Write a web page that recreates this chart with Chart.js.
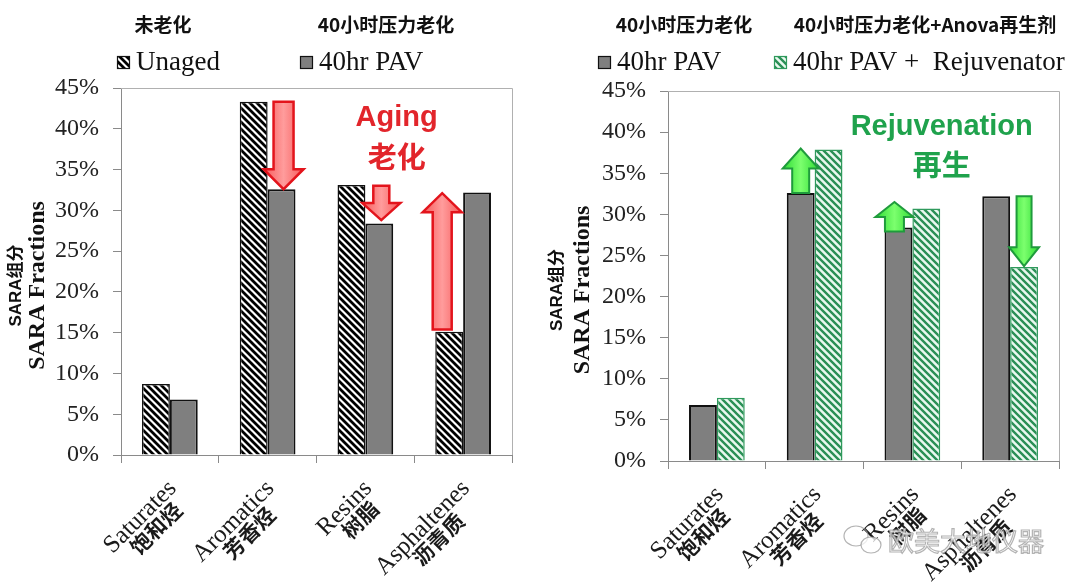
<!DOCTYPE html>
<html><head><meta charset="utf-8">
<script src="https://cdn.jsdelivr.net/npm/chart.js@4.4.1/dist/chart.umd.min.js"></script>
<style>
html,body{margin:0;padding:0;background:#fff;}
#wrap{position:relative;width:1080px;height:587px;overflow:hidden;background:#fff;}
.c{position:absolute;top:0;width:540px;height:587px;}
canvas{display:block;}
</style></head><body>
<div id="wrap">
<div class="c" style="left:0"><canvas id="left" width="540" height="587" style="width:540px;height:587px"></canvas></div>
<div class="c" style="left:540px"><canvas id="right" width="540" height="587" style="width:540px;height:587px"></canvas></div>
</div>
<script>
// ---------- data ----------
const categoriesEn = ['Saturates', 'Aromatics', 'Resins', 'Asphaltenes'];
const categoriesZh = ['饱和烃', '芳香烃', '树脂', '沥青质'];
const unaged      = [8.7, 43.3, 33.1, 15.1];
const pav40       = [6.8, 32.6, 28.4, 32.2];
const rejuvenated = [7.7, 37.9, 30.7, 23.6];
const yTickValues = [0, 5, 10, 15, 20, 25, 30, 35, 40, 45];

const leftHeaders  = ['未老化', '40小时压力老化'];
const rightHeaders = ['40小时压力老化', '40小时压力老化+Anova再生剂'];
const leftLegend   = ['Unaged', '40hr PAV'];
const rightLegend  = ['40hr PAV', '40hr PAV +  Rejuvenator'];
const yTitleZh = 'SARA组分';
const yTitleEn = 'SARA Fractions';

// arrows: dataset index, category index, from value, to value (in %)
const agingArrows = [
  {ds: 1, cat: 1, from: 43.3, to: 32.6},
  {ds: 1, cat: 2, from: 33.0, to: 28.8},
  {ds: 0, cat: 3, from: 15.4, to: 32.1}
];
const rejuvArrows = [
  {ds: 0, cat: 1, from: 32.6, to: 38.0},
  {ds: 0, cat: 2, from: 27.9, to: 31.5},
  {ds: 1, cat: 3, from: 32.2, to: 23.7}
];
const agingLabel = ['Aging', '老化'];
const rejuvLabel = ['Rejuvenation', '再生'];

// ---------- styles ----------
function hatch(bg, fg, lw, size) {
  const c = document.createElement('canvas');
  c.width = c.height = size;
  const g = c.getContext('2d');
  g.fillStyle = bg; g.fillRect(0, 0, size, size);
  g.strokeStyle = fg; g.lineWidth = lw;
  g.beginPath();
  for (const k of [-size, 0, size]) {
    g.moveTo(k - 1, -1); g.lineTo(k + size + 1, size + 1);
  }
  g.stroke();
  return g.createPattern(c, 'repeat');
}
const blackHatch = hatch('#ffffff', '#000000', 2.8, 7);
const greenHatch = hatch('#e9f8ef', '#2a8f55', 2.4, 7);
const PAV_GRAY = '#7f7f7f';
const SERIF = '"Liberation Serif", "Times New Roman", serif';
const SANS = '"Liberation Sans", Arial, "Noto Sans CJK SC", sans-serif';
const CJK = '"Noto Sans CJK SC", "Liberation Sans", sans-serif';

function drawArrow(ctx, cx, y0, y1, sw, hw, hl, fillA, fillB, stroke, lw) {
  const s = Math.sign(y1 - y0);
  const yh = y1 - s * hl;
  ctx.save();
  ctx.beginPath();
  ctx.moveTo(cx - sw / 2, y0);
  ctx.lineTo(cx + sw / 2, y0);
  ctx.lineTo(cx + sw / 2, yh);
  ctx.lineTo(cx + hw / 2, yh);
  ctx.lineTo(cx, y1);
  ctx.lineTo(cx - hw / 2, yh);
  ctx.lineTo(cx - sw / 2, yh);
  ctx.closePath();
  const g = ctx.createLinearGradient(cx - hw / 2, 0, cx + hw / 2, 0);
  g.addColorStop(0, fillA); g.addColorStop(0.5, fillB); g.addColorStop(1, fillA);
  ctx.fillStyle = g; ctx.fill();
  ctx.lineJoin = 'miter';
  ctx.strokeStyle = stroke; ctx.lineWidth = lw; ctx.stroke();
  ctx.restore();
}

function legendBox(ctx, x, y, size, fill, stroke) {
  ctx.save();
  ctx.fillStyle = fill; ctx.fillRect(x, y, size, size);
  ctx.strokeStyle = stroke; ctx.lineWidth = 1.2; ctx.strokeRect(x + 0.5, y + 0.5, size - 1, size - 1);
  ctx.restore();
}

function makePlugin(cfg) {
  return {
    id: 'deco',
    afterDatasetsDraw(chart) {
      const ctx = chart.ctx;
      const ca = chart.chartArea;
      const xs = chart.scales.x, ys = chart.scales.y;
      // frame (top + right)
      ctx.save();
      ctx.strokeStyle = '#b0b0b0'; ctx.lineWidth = 1;
      ctx.beginPath();
      ctx.moveTo(ca.left, Math.round(ca.top) + 0.5);
      ctx.lineTo(Math.round(ca.right) + 0.5, Math.round(ca.top) + 0.5);
      ctx.lineTo(Math.round(ca.right) + 0.5, ca.bottom);
      ctx.stroke();
      ctx.restore();
      // arrows
      for (const a of cfg.arrows) {
        const bar = chart.getDatasetMeta(a.ds).data[a.cat];
        const cx = bar.x + (a.dx || 0);
        drawArrow(ctx, cx, ys.getPixelForValue(a.from), ys.getPixelForValue(a.to),
          a.sw, a.hw, a.hl, cfg.arrowFillA, cfg.arrowFillB, cfg.arrowStroke, cfg.arrowLw);
      }
      // annotation text
      ctx.save();
      ctx.fillStyle = cfg.textColor;
      ctx.textAlign = 'center'; ctx.textBaseline = 'middle';
      const tx = xs.getPixelForValue(cfg.textAt);
      ctx.font = 'bold 29px ' + SANS;
      ctx.fillText(cfg.text[0], tx, ys.getPixelForValue(cfg.textVals[0]));
      ctx.font = 'bold 29px ' + CJK;
      ctx.fillText(cfg.text[1], tx, ys.getPixelForValue(cfg.textVals[1]));
      ctx.restore();
    },
    afterDraw(chart) {
      const ctx = chart.ctx;
      const ca = chart.chartArea;
      const xs = chart.scales.x;
      // x labels, rotated
      for (let i = 0; i < categoriesEn.length; i++) {
        const x = xs.getPixelForValue(i);
        ctx.save();
        ctx.translate(x - 6, ca.bottom + 21);
        ctx.rotate(-Math.PI / 4);
        ctx.fillStyle = '#1a1a1a';
        ctx.font = '25px ' + SERIF;
        ctx.textAlign = 'right'; ctx.textBaseline = 'top';
        const w = ctx.measureText(categoriesEn[i]).width;
        ctx.fillText(categoriesEn[i], 0, 0);
        ctx.font = 'bold 21px ' + CJK;
        ctx.textAlign = 'center';
        ctx.fillText(categoriesZh[i], -w / 2 + 3, 21);
        ctx.restore();
      }
      // y titles
      const cy = (ca.top + ca.bottom) / 2 + 14;
      ctx.save();
      ctx.fillStyle = '#111';
      ctx.translate(cfg.titleEnX, cy); ctx.rotate(-Math.PI / 2);
      ctx.textAlign = 'center'; ctx.textBaseline = 'middle';
      ctx.font = 'bold 24px ' + SERIF;
      ctx.fillText(yTitleEn, 0, 0);
      ctx.restore();
      ctx.save();
      ctx.fillStyle = '#111';
      ctx.translate(cfg.titleZhX, cy); ctx.rotate(-Math.PI / 2);
      ctx.textAlign = 'center'; ctx.textBaseline = 'middle';
      ctx.font = 'bold 17px ' + SANS;
      ctx.fillText(yTitleZh, 0, 0);
      ctx.restore();
      // headers
      ctx.save();
      ctx.fillStyle = '#111';
      ctx.textAlign = 'center'; ctx.textBaseline = 'middle';
      ctx.font = 'bold 19px ' + CJK;
      cfg.headers.forEach((h, i) => ctx.fillText(h, cfg.headerX[i], 25));
      ctx.restore();
      // legend
      ctx.save();
      ctx.fillStyle = '#111';
      ctx.textAlign = 'left'; ctx.textBaseline = 'middle';
      ctx.font = '27px ' + SERIF;
      cfg.legend.forEach((l, i) => {
        legendBox(ctx, cfg.legendX[i], 56, 13, cfg.legendFill[i], cfg.legendStroke[i]);
        ctx.fillText(l, cfg.legendX[i] + 19, 63);
      });
      ctx.restore();
      if (cfg.watermark) {
        ctx.save();
        ctx.globalAlpha = 0.75;
        ctx.font = '26px ' + CJK;
        ctx.textAlign = 'left'; ctx.textBaseline = 'middle';
        ctx.lineWidth = 1.2; ctx.strokeStyle = '#9a9a9a'; ctx.fillStyle = '#ffffff';
        ctx.fillText('欧美大地仪器', 348, 541);
        ctx.strokeText('欧美大地仪器', 348, 541);
        ctx.beginPath(); ctx.ellipse(316, 536, 12, 10, 0, 0, Math.PI * 2); ctx.stroke();
        ctx.beginPath(); ctx.ellipse(331, 545, 10, 8, 0, 0, Math.PI * 2); ctx.fill(); ctx.stroke();
        ctx.restore();
      }
    }
  };
}

function makeChart(id, datasets, geom, cfg) {
  const canvasH = 587;
  return new Chart(document.getElementById(id), {
    type: 'bar',
    data: { labels: categoriesEn, datasets },
    options: {
      responsive: false, animation: false, devicePixelRatio: 1,
      layout: { padding: { left: 0, top: geom.top, right: 540 - geom.right, bottom: 0 } },
      plugins: { legend: { display: false }, tooltip: { enabled: false }, title: { display: false } },
      scales: {
        x: {
          offset: true,
          ticks: { display: false },
          grid: { offset: true, drawOnChartArea: false, drawTicks: true, tickLength: 8, color: '#8a8a8a' },
          border: { display: true, color: '#8a8a8a', width: 1 },
          afterFit: s => { s.height = canvasH - geom.bottom; }
        },
        y: {
          min: 0, max: 45,
          afterBuildTicks: s => { s.ticks = yTickValues.map(v => ({ value: v })); },
          ticks: { callback: v => v + '%', font: { family: SERIF, size: 24 }, color: '#222', padding: 14 },
          grid: { drawOnChartArea: false, drawTicks: true, tickLength: 8, color: '#8a8a8a' },
          border: { display: true, color: '#8a8a8a', width: 1 },
          afterFit: s => { s.width = geom.left; }
        }
      }
    },
    plugins: [makePlugin(cfg)]
  });
}

const barCommon = { barPercentage: 1, categoryPercentage: 0.57, borderSkipped: 'bottom' };

makeChart('left', [
  Object.assign({ label: leftLegend[0], data: unaged, backgroundColor: blackHatch, borderColor: '#111', borderWidth: 1.5 }, barCommon),
  Object.assign({ label: leftLegend[1], data: pav40, backgroundColor: PAV_GRAY, borderColor: '#111', borderWidth: 2 }, barCommon)
], { left: 121, right: 512, top: 88, bottom: 455 }, {
  arrows: [
    Object.assign({ dx: 2, sw: 20, hw: 40, hl: 20 }, agingArrows[0]),
    Object.assign({ dx: 2, sw: 16, hw: 38, hl: 17 }, agingArrows[1]),
    Object.assign({ dx: -7, sw: 19, hw: 39, hl: 19 }, agingArrows[2])
  ],
  arrowFillA: '#f65a5a', arrowFillB: '#ff9c9c', arrowStroke: '#e3141c', arrowLw: 2.5,
  text: agingLabel, textAt: 2.32, textVals: [41.3, 36.6], textColor: '#e2252b',
  titleEnX: 38, titleZhX: 16,
  headers: leftHeaders, headerX: [163, 386],
  legend: leftLegend, legendX: [117, 300], legendFill: [blackHatch, PAV_GRAY], legendStroke: ['#111', '#111'],
  watermark: false
});

makeChart('right', [
  Object.assign({ label: rightLegend[0], data: pav40, backgroundColor: PAV_GRAY, borderColor: '#111', borderWidth: 2 }, barCommon),
  Object.assign({ label: rightLegend[1], data: rejuvenated, backgroundColor: greenHatch, borderColor: '#2f9a5c', borderWidth: 1.5 }, barCommon)
], { left: 128, right: 519, top: 91, bottom: 461 }, {
  arrows: [
    Object.assign({ dx: 0, sw: 17, hw: 36, hl: 20 }, rejuvArrows[0]),
    Object.assign({ dx: -4, sw: 19, hw: 38, hl: 15 }, rejuvArrows[1]),
    Object.assign({ dx: 0, sw: 15, hw: 30, hl: 19 }, rejuvArrows[2])
  ],
  arrowFillA: '#2fdc35', arrowFillB: '#7cff6e', arrowStroke: '#1f9b3c', arrowLw: 2,
  text: rejuvLabel, textAt: 2.3, textVals: [40.6, 36.0], textColor: '#1fa24c',
  titleEnX: 43, titleZhX: 17,
  headers: rightHeaders, headerX: [144, 385],
  legend: rightLegend, legendX: [58, 234], legendFill: [PAV_GRAY, greenHatch], legendStroke: ['#111', '#2f9a5c'],
  watermark: true
});
</script>
</body></html>
